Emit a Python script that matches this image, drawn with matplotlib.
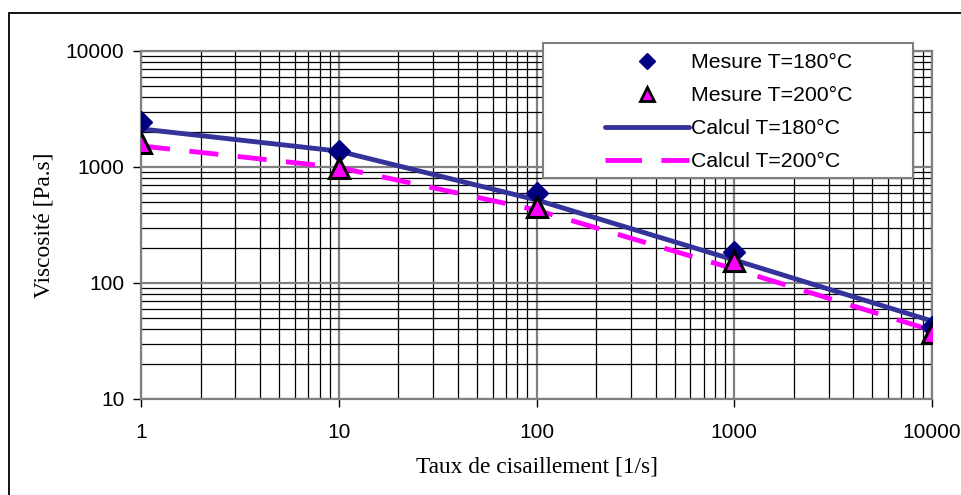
import matplotlib.pyplot as plt
from matplotlib.patches import Rectangle
from matplotlib.lines import Line2D
from matplotlib.ticker import LogLocator, FixedLocator, NullFormatter

# data
shear_rate = [1, 10, 100, 1000, 10000]
mesure_180 = [2450, 1380, 600, 186, 42]
mesure_200 = [1600, 980, 455, 155, 37]
calcul_180 = [2130, 1370, 520, 158, 47]
calcul_200 = [1520, 990, 425, 132, 39]
x_ticks = [1, 10, 100, 1000, 10000]
y_ticks = [10, 100, 1000, 10000]

W, H = 961, 495
fig = plt.figure(figsize=(W / 100, H / 100), dpi=100)
ax = fig.add_axes([141 / W, 1 - 399 / H, (932 - 141) / W, (399 - 51) / H])

# outer chart border (cut off at right and bottom like the reference)
fig.patches.append(Rectangle((9 / W, -0.1), 1.2, 1 - 13 / H + 0.1,
                             transform=fig.transFigure, fill=False,
                             edgecolor='black', linewidth=1.3))

ax.set_xscale('log')
ax.set_yscale('log')
ax.set_xlim(1, 10000)
ax.set_ylim(10, 10000)

ax.xaxis.set_major_locator(FixedLocator(x_ticks))
ax.yaxis.set_major_locator(FixedLocator(y_ticks))
ax.xaxis.set_minor_locator(LogLocator(base=10, subs=range(2, 10), numticks=20))
ax.yaxis.set_minor_locator(LogLocator(base=10, subs=range(2, 10), numticks=20))
ax.xaxis.set_minor_formatter(NullFormatter())
ax.yaxis.set_minor_formatter(NullFormatter())
ax.set_xticklabels([str(v) for v in x_ticks], fontfamily='Liberation Sans', fontsize=15)
ax.set_yticklabels([str(v) for v in y_ticks], fontfamily='Liberation Sans', fontsize=15)

ax.grid(which='minor', color='black', linewidth=0.9)
ax.grid(which='major', color='#808080', linewidth=1.6)
ax.set_axisbelow(True)
ax.tick_params(axis='y', which='major', direction='out', length=6, width=1, color='black', pad=6)
ax.tick_params(axis='x', which='major', direction='out', length=6, width=1, color='black', pad=11)
ax.tick_params(which='minor', length=0)
for s in ax.spines.values():
    s.set_color('#808080')
    s.set_linewidth(1.6)

ax.plot(shear_rate, calcul_180, color='#333399', linewidth=3.5, zorder=3,
        solid_capstyle='round')
ax.plot(shear_rate, calcul_200, color='#FF00FF', linewidth=3.5,
        dashes=(6, 4), zorder=3)
ax.plot(shear_rate, mesure_180, linestyle='none', marker='D', markersize=11,
        color='#000080', zorder=4)
ax.plot(shear_rate, mesure_200, linestyle='none', marker='^', markersize=15,
        markerfacecolor='#FF00FF', markeredgecolor='black', markeredgewidth=2.2,
        zorder=5)

ax.set_xlabel('Taux de cisaillement [1/s]', fontfamily='Liberation Serif', fontsize=16.8, labelpad=11)
ax.set_ylabel('Viscosité [Pa.s]', fontfamily='Liberation Serif', fontsize=16.8, labelpad=8)

# legend: box drawn separately, entries placed inside
fig.patches.append(Rectangle((543 / W, 1 - 178 / H), (913 - 543) / W, (178 - 43) / H,
                             transform=fig.transFigure, facecolor='white',
                             edgecolor='#808080', linewidth=1.5, zorder=5))
handles = [
    Line2D([], [], linestyle='none', marker='D', markersize=8, color='#000080'),
    Line2D([], [], linestyle='none', marker='^', markersize=10, markerfacecolor='#FF00FF',
           markeredgecolor='black', markeredgewidth=2),
    Line2D([], [], color='#333399', linewidth=3.5, solid_capstyle='round'),
    Line2D([], [], color='#FF00FF', linewidth=3.5, dashes=(7.5, 4)),
]
labels = ['Mesure T=180°C', 'Mesure T=200°C', 'Calcul T=180°C', 'Calcul T=200°C']
leg = fig.legend(handles, labels, loc='upper left',
                 bbox_to_anchor=(605 / W, 1 - 53 / H),
                 prop={'family': 'Liberation Sans', 'size': 15.3},
                 frameon=False, handlelength=3.95, handletextpad=0.12,
                 labelspacing=0.66, borderpad=0, borderaxespad=0)
leg.set_zorder(6)

fig.savefig('out.png', dpi=100)
